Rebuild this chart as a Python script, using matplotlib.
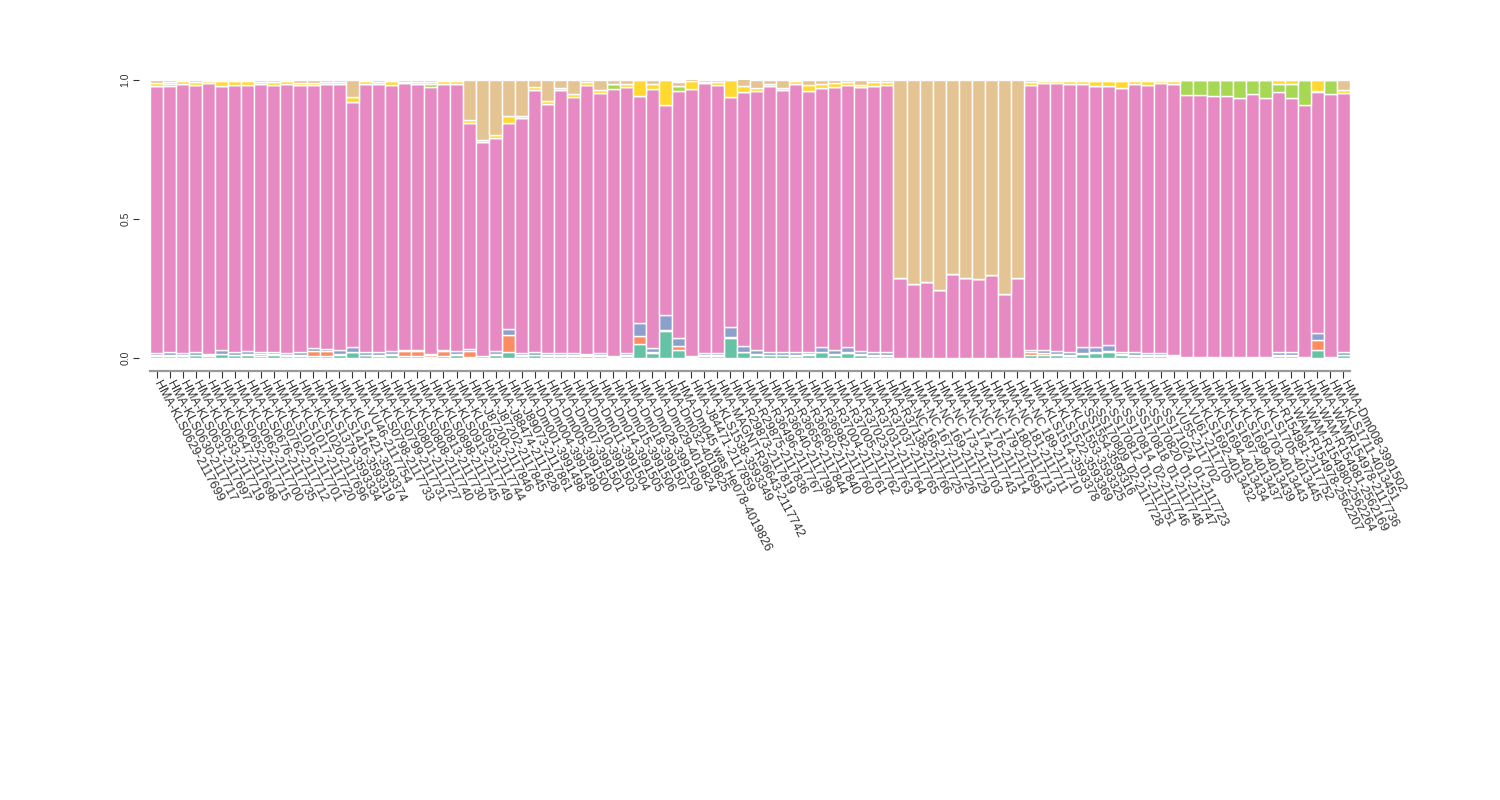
import numpy as np
import matplotlib
matplotlib.use("Agg")
import matplotlib.pyplot as plt

plt.rcParams['font.family'] = ['Liberation Sans', 'DejaVu Sans']

samples = [
    "HMA-KLS0629-2117699", "HMA-KLS0630-2117717", "HMA-KLS0631-2117697", "HMA-KLS0633-2117719",
    "HMA-KLS0647-2117698", "HMA-KLS0652-2117715", "HMA-KLS0662-2117700", "HMA-KLS0676-2117735",
    "HMA-KLS0762-2117712", "HMA-KLS1016-2117701", "HMA-KLS1017-2117720", "HMA-KLS1020-2117696",
    "HMA-KLS1379-3593334", "HMA-KLS1416-3593319", "HMA-KLS1421-3593374", "HMA-VU46-2117754",
    "HMA-KLS0798-2117733", "HMA-KLS0799-2117731", "HMA-KLS0801-2117727", "HMA-KLS0808-2117740",
    "HMA-KLS0813-2117730", "HMA-KLS0898-2117745", "HMA-KLS0913-2117749", "HMA-KLS0933-2117744",
    "HMA-J87200-2117846", "HMA-J87202-2117845", "HMA-J88474-2117828", "HMA-J89073-2117861",
    "HMA-Dm001-3991498", "HMA-Dm004-3991499", "HMA-Dm005-3991500", "HMA-Dm007-3991501",
    "HMA-Dm010-3991503", "HMA-Dm011-3991504", "HMA-Dm014-3991505", "HMA-Dm015-3991506",
    "HMA-Dm018-3991507", "HMA-Dm028-3991509", "HMA-Dm029-4019824", "HMA-Dm032-4019825",
    "HMA-Dm045 was He078-4019826", "HMA-J84471-2117859", "HMA-KLS1538-3593349",
    "HMA-MAGNT-R36643-2117742", "HMA-R29873-2117819", "HMA-R29875-2117836", "HMA-R36496-2117767",
    "HMA-R36640-2117798", "HMA-R36656-2117844", "HMA-R36660-2117840", "HMA-R36982-2117760",
    "HMA-R37004-2117761", "HMA-R37005-2117762", "HMA-R37023-2117763", "HMA-R37031-2117764",
    "HMA-R37037-2117765", "HMA-R37138-2117766", "HMA-NC 166-2117725", "HMA-NC 167-2117726",
    "HMA-NC 169-2117729", "HMA-NC 173-2117703", "HMA-NC 174-2117743", "HMA-NC 176-2117714",
    "HMA-NC 179-2117695", "HMA-NC 180-2117713", "HMA-NC 181-2117711", "HMA-NC 189-2117710",
    "HMA-KLS1514-3593378", "HMA-KLS1522-3593369", "HMA-KLS1553-3593325", "HMA-SS1554-3593316",
    "HMA-SS170809_02-2117728", "HMA-SS170812_01-2117751", "HMA-SS170814_02-2117746",
    "HMA-SS170818_01-2117748", "HMA-SS170820_01-2117747", "HMA-SS171024_01-2117723",
    "HMA-VU55-2117702", "HMA-VU61-2117705", "HMA-KLS1692-4013432", "HMA-KLS1694-4013434",
    "HMA-KLS1697-4013437", "HMA-KLS1699-4013439", "HMA-KLS1703-4013443", "HMA-KLS1705-4013445",
    "HMA-R154981-2117752", "HMA-WAM-R154978-2562207", "HMA-WAM-R154980-2562264",
    "HMA-WAM-R154981-2562169", "HMA-WAMR154978-2117736", "HMA-KLS1711-4013451",
    "HMA-Dm008-3991502",
]

# ancestry proportions per sample (bottom to top)
teal = [0.006, 0.007, 0.007, 0.009, 0.006, 0.014, 0.009, 0.012, 0.007, 0.010, 0.007, 0.006,
        0.007, 0.008, 0.010, 0.021, 0.009, 0.006, 0.012, 0.007, 0.007, 0.005, 0.007, 0.009,
        0.003, 0.001, 0.012, 0.022, 0.007, 0.009, 0.007, 0.007, 0.007, 0.006, 0.007, 0.002,
        0.007, 0.052, 0.018, 0.098, 0.030, 0.002, 0.007, 0.007, 0.072, 0.021, 0.012, 0.009,
        0.009, 0.008, 0.010, 0.020, 0.012, 0.018, 0.010, 0.008, 0.008, 0.000, 0.000, 0.000,
        0.000, 0.000, 0.000, 0.000, 0.000, 0.000, 0.000, 0.010, 0.012, 0.010, 0.008, 0.015,
        0.018, 0.022, 0.010, 0.008, 0.008, 0.008, 0.004, 0.002, 0.002, 0.002, 0.002, 0.002,
        0.002, 0.002, 0.008, 0.008, 0.002, 0.030, 0.002, 0.010]
orange = [0.006, 0.004, 0.003, 0.003, 0.004, 0.002, 0.003, 0.003, 0.006, 0.003, 0.003, 0.006,
          0.018, 0.018, 0.006, 0.002, 0.003, 0.006, 0.003, 0.017, 0.017, 0.005, 0.017, 0.005,
          0.023, 0.007, 0.002, 0.062, 0.003, 0.003, 0.003, 0.003, 0.003, 0.004, 0.003, 0.006,
          0.003, 0.026, 0.003, 0.002, 0.013, 0.006, 0.003, 0.003, 0.002, 0.002, 0.003, 0.003,
          0.003, 0.003, 0.003, 0.002, 0.003, 0.002, 0.003, 0.003, 0.003, 0.000, 0.000, 0.000,
          0.000, 0.000, 0.000, 0.000, 0.000, 0.000, 0.000, 0.012, 0.006, 0.006, 0.004, 0.003,
          0.003, 0.003, 0.003, 0.003, 0.003, 0.003, 0.002, 0.001, 0.001, 0.001, 0.001, 0.001,
          0.001, 0.001, 0.002, 0.002, 0.001, 0.035, 0.001, 0.002]
blue = [0.005, 0.009, 0.009, 0.011, 0.004, 0.014, 0.010, 0.011, 0.009, 0.010, 0.008, 0.009,
        0.011, 0.008, 0.012, 0.017, 0.010, 0.010, 0.010, 0.006, 0.006, 0.003, 0.006, 0.011,
        0.007, 0.000, 0.011, 0.021, 0.008, 0.009, 0.008, 0.008, 0.007, 0.003, 0.009, 0.000,
        0.007, 0.047, 0.014, 0.055, 0.030, 0.000, 0.007, 0.007, 0.039, 0.019, 0.014, 0.010,
        0.010, 0.009, 0.010, 0.018, 0.015, 0.020, 0.012, 0.009, 0.009, 0.000, 0.000, 0.000,
        0.000, 0.000, 0.000, 0.000, 0.000, 0.000, 0.000, 0.008, 0.010, 0.010, 0.010, 0.020,
        0.018, 0.020, 0.010, 0.009, 0.008, 0.008, 0.004, 0.001, 0.001, 0.001, 0.001, 0.001,
        0.001, 0.001, 0.010, 0.010, 0.001, 0.025, 0.002, 0.010]
pink = [0.963, 0.960, 0.966, 0.960, 0.976, 0.950, 0.961, 0.957, 0.963, 0.959, 0.969, 0.962,
        0.946, 0.951, 0.959, 0.882, 0.963, 0.965, 0.958, 0.958, 0.956, 0.963, 0.957, 0.960,
        0.814, 0.770, 0.765, 0.741, 0.846, 0.943, 0.897, 0.945, 0.921, 0.969, 0.933, 0.958,
        0.957, 0.819, 0.931, 0.754, 0.886, 0.958, 0.971, 0.966, 0.826, 0.916, 0.930, 0.955,
        0.941, 0.965, 0.939, 0.931, 0.944, 0.941, 0.949, 0.960, 0.962, 0.288, 0.266, 0.273,
        0.245, 0.302, 0.288, 0.284, 0.299, 0.230, 0.288, 0.953, 0.960, 0.962, 0.963, 0.949,
        0.938, 0.935, 0.948, 0.965, 0.962, 0.969, 0.977, 0.942, 0.943, 0.937, 0.940, 0.931,
        0.947, 0.932, 0.936, 0.914, 0.907, 0.868, 0.945, 0.930]
green = [0.000, 0.006, 0.000, 0.000, 0.000, 0.000, 0.000, 0.000, 0.000, 0.000, 0.000, 0.000,
         0.000, 0.000, 0.000, 0.000, 0.000, 0.000, 0.000, 0.000, 0.000, 0.010, 0.000, 0.000,
         0.000, 0.000, 0.000, 0.000, 0.000, 0.000, 0.000, 0.000, 0.000, 0.000, 0.000, 0.018,
         0.000, 0.000, 0.000, 0.000, 0.018, 0.000, 0.000, 0.000, 0.000, 0.000, 0.000, 0.000,
         0.000, 0.000, 0.000, 0.000, 0.000, 0.000, 0.000, 0.000, 0.000, 0.000, 0.000, 0.000,
         0.000, 0.000, 0.000, 0.000, 0.000, 0.000, 0.000, 0.000, 0.000, 0.000, 0.000, 0.000,
         0.000, 0.000, 0.000, 0.000, 0.000, 0.000, 0.000, 0.054, 0.053, 0.059, 0.056, 0.065,
         0.049, 0.064, 0.030, 0.052, 0.089, 0.004, 0.050, 0.000]
yellow = [0.008, 0.006, 0.010, 0.010, 0.005, 0.016, 0.012, 0.013, 0.007, 0.012, 0.008, 0.007,
          0.008, 0.008, 0.007, 0.018, 0.010, 0.006, 0.012, 0.006, 0.008, 0.006, 0.008, 0.010,
          0.008, 0.006, 0.012, 0.023, 0.008, 0.011, 0.011, 0.010, 0.011, 0.012, 0.011, 0.000,
          0.011, 0.056, 0.018, 0.091, 0.000, 0.031, 0.006, 0.010, 0.061, 0.020, 0.012, 0.010,
          0.010, 0.010, 0.020, 0.013, 0.016, 0.011, 0.008, 0.013, 0.012, 0.000, 0.000, 0.000,
          0.000, 0.000, 0.000, 0.000, 0.000, 0.000, 0.000, 0.010, 0.007, 0.007, 0.010, 0.008,
          0.018, 0.015, 0.024, 0.010, 0.014, 0.007, 0.008, 0.000, 0.000, 0.000, 0.000, 0.000,
          0.000, 0.000, 0.014, 0.014, 0.000, 0.038, 0.000, 0.011]
tan = [0.012, 0.008, 0.005, 0.007, 0.005, 0.004, 0.005, 0.004, 0.008, 0.006, 0.005, 0.010,
       0.010, 0.007, 0.006, 0.060, 0.005, 0.007, 0.005, 0.006, 0.006, 0.008, 0.005, 0.005,
       0.145, 0.216, 0.198, 0.131, 0.128, 0.025, 0.074, 0.027, 0.051, 0.006, 0.037, 0.016,
       0.015, 0.000, 0.016, 0.000, 0.016, 0.010, 0.006, 0.007, 0.000, 0.035, 0.029, 0.013,
       0.027, 0.005, 0.018, 0.016, 0.010, 0.008, 0.018, 0.007, 0.006, 0.712, 0.734, 0.727,
       0.755, 0.698, 0.712, 0.716, 0.701, 0.770, 0.712, 0.007, 0.005, 0.005, 0.005, 0.005,
       0.005, 0.005, 0.005, 0.005, 0.005, 0.005, 0.005, 0.000, 0.000, 0.000, 0.000, 0.000,
       0.000, 0.000, 0.000, 0.000, 0.000, 0.000, 0.000, 0.037]

series = [teal, orange, blue, pink, green, yellow, tan]
colors = ["#66c2a5", "#fc8d62", "#8da0cb", "#e78ac3", "#a6d854", "#ffd92f", "#e5c494"]

fig = plt.figure(figsize=(15, 8), dpi=100)
ax = fig.add_axes([0.1, 0.5525, 0.8, 0.3475])
x = np.arange(len(samples))
bottom = np.zeros(len(samples))
for vals, col in zip(series, colors):
    vals = np.array(vals)
    ax.bar(x, vals, bottom=bottom, width=1.0, color=col, edgecolor="white", linewidth=1.0)
    bottom += vals

ax.set_xlim(-0.5, len(samples) - 0.5)
ax.set_ylim(0, 1)
for s in ["top", "right"]:
    ax.spines[s].set_visible(False)
ax.spines["left"].set_position(("outward", 8))
ax.spines["left"].set_color("none")
ax.spines["bottom"].set_position(("outward", 9))
ax.spines["bottom"].set_color("#999999")
ax.spines["bottom"].set_linewidth(1.6)

ax.set_yticks([0, 0.5, 1.0])
ax.set_yticklabels(["0.0", "0.5", "1.0"], rotation=90, va="center", fontsize=7.5, color="#333333")
ax.set_xticks(x)
ax.set_xticklabels(samples, rotation=-62, ha="left", va="center", rotation_mode="anchor",
                   fontsize=9, color="#333333")
ax.tick_params(axis="x", length=5, width=0.8, color="#333333", pad=3)
ax.tick_params(axis="y", length=4, width=0.8, color="#333333", pad=2)

fig.savefig("out.png", dpi=100)
